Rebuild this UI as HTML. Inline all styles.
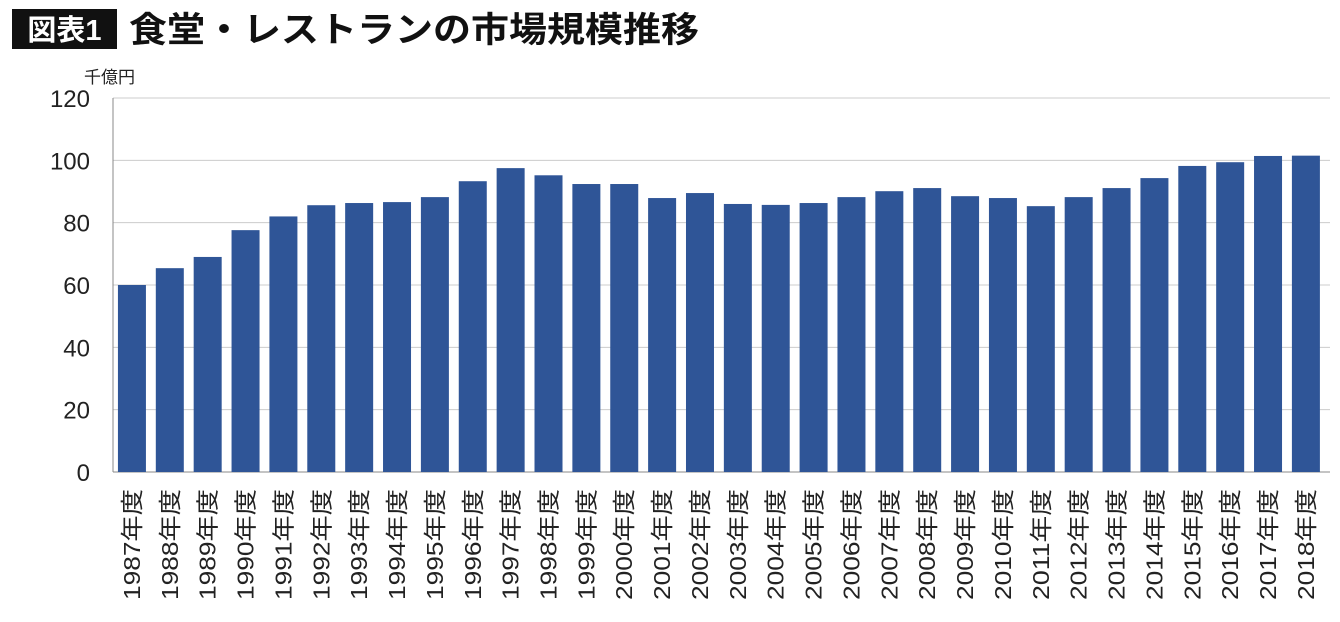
<!DOCTYPE html>
<html><head><meta charset="utf-8">
<style>
body{margin:0;background:#fff;}
svg{display:block;font-family:"Liberation Sans","Noto Sans CJK JP",sans-serif;}
</style></head>
<body>
<svg id="chart" width="1340" height="622" xmlns="http://www.w3.org/2000/svg">
<rect x="12" y="9" width="105" height="40" fill="#111"/>
<text x="64.5" y="40" font-size="29" font-weight="bold" fill="#fff" text-anchor="middle">図表1</text>
<text x="129" y="42" font-size="35" font-weight="bold" fill="#111" textLength="570" lengthAdjust="spacingAndGlyphs">食堂・レストランの市場規模推移</text>
<text x="84" y="83" font-size="17" fill="#222">千億円</text>
<g id="grid"></g><g id="bars"></g><g id="labels"></g>
</svg>
<script>
const years=["1987","1988","1989","1990","1991","1992","1993","1994","1995","1996","1997","1998","1999","2000","2001","2002","2003","2004","2005","2006","2007","2008","2009","2010","2011","2012","2013","2014","2015","2016","2017","2018"];
const values=[60.0,65.4,69.0,77.6,82.0,85.6,86.3,86.6,88.2,93.3,97.5,95.2,92.4,92.4,87.9,89.5,86.0,85.7,86.3,88.2,90.1,91.1,88.5,87.9,85.3,88.2,91.1,94.3,98.2,99.4,101.4,101.5];
const yTicks=[0,20,40,60,80,100,120];
const NS="http://www.w3.org/2000/svg";
const x0=113,x1=1330,yTop=98,yBot=472,yMax=120;
const y=v=>yBot-(v/yMax)*(yBot-yTop);
const slot=37.87;
const xc=i=>x0+slot*(i+0.5);
const grid=document.getElementById('grid'),bars=document.getElementById('bars'),labels=document.getElementById('labels');
function mk(tag,attrs,parent){const e=document.createElementNS(NS,tag);for(const k in attrs)e.setAttribute(k,attrs[k]);parent.appendChild(e);return e;}
yTicks.forEach(t=>{
  const l=mk('line',{x1:x0,x2:x1,y1:y(t),y2:y(t),stroke:t===0?'#888':'#ccc','stroke-width':1},grid);
  
  
  const tx=mk('text',{x:90,y:y(t)+9,'font-size':24,'text-anchor':'end',fill:'#222'},grid);
  tx.textContent=t;
  
  
});
const ax=mk('line',{x1:x0,x2:x0,y1:yTop,y2:yBot,stroke:'#888','stroke-width':1},grid);


const bw=28;
years.forEach((yr,i)=>{
  const r=mk('rect',{x:xc(i)-bw/2,y:y(values[i]),width:bw,height:yBot-y(values[i]),fill:'#2f5597'},bars);
  
  
  const cx=xc(i)+8;
  const t=mk('text',{x:cx,y:489,'font-size':23,fill:'#222','text-anchor':'end',textLength:111,lengthAdjust:'spacingAndGlyphs',transform:`rotate(-90 ${cx} 489)`},labels);
  t.textContent=yr+'年度';
  
  
});
</script>
</body></html>
